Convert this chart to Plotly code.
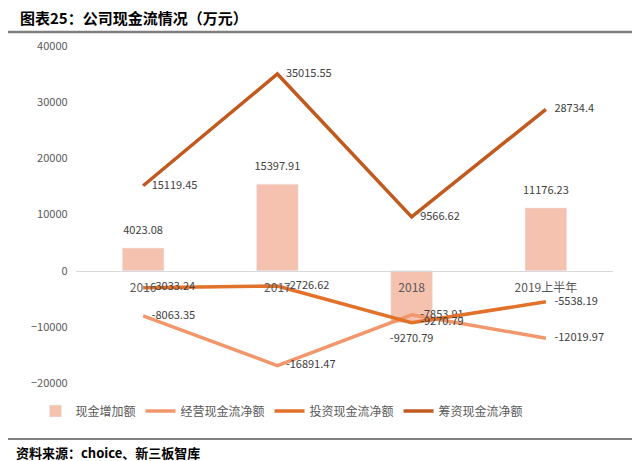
import plotly.graph_objects as go

categories = ["2016", "2017", "2018", "2019上半年"]
cash_increase = [4023.08, 15397.91, -9270.79, 11176.23]
operating = [-8063.35, -16891.47, -7853.91, -12019.97]
investing = [-3033.24, -2726.62, -9270.79, -5538.19]
financing = [15119.45, 35015.55, 9566.62, 28734.4]

font_cn = "Noto Sans CJK SC, sans-serif"
# the page body has an 8px margin, so the figure is drawn 8px smaller and
# every reference pixel position is shifted by 8
OFF = 8
W, H = 640 - OFF, 461 - OFF
left, right, top, bottom = 76 - OFF, 35 - OFF, 46 - OFF, 461 - 383
pw, ph = W - left - right, H - top - bottom


def px_y(y):
    # reference pixel row -> paper y
    return (H - bottom - (y - OFF)) / ph


def px_x(x):
    return ((x - OFF) - left) / pw


fig = go.Figure()

fig.add_trace(go.Bar(
    x=categories, y=cash_increase, name="现金增加额",
    marker_color="#F5C2AF", width=0.31,
))
# bar value labels, placed a little further from the bar ends than Bar's own outside text
fig.add_trace(go.Scatter(
    x=categories, y=cash_increase, mode="markers+text", showlegend=False,
    marker=dict(size=16, color="rgba(0,0,0,0)"),
    text=[str(v) for v in cash_increase],
    textposition=["top center" if v >= 0 else "bottom center" for v in cash_increase],
    textfont=dict(size=11, color="#404040"), cliponaxis=False, hoverinfo="skip",
))

line_series = [
    ("经营现金流净额", operating, "#F2976B"),
    ("投资现金流净额", investing, "#E2712A"),
    ("筹资现金流净额", financing, "#C05A1E"),
]
for name, vals, color in line_series:
    fig.add_trace(go.Scatter(
        x=categories, y=vals, name=name, mode="lines+markers+text",
        line=dict(color=color, width=3.5),
        marker=dict(size=12, color="rgba(0,0,0,0)"),
        text=[str(v) for v in vals], textposition="middle right",
        textfont=dict(size=11, color="#404040"), cliponaxis=False,
    ))

# x axis sits on the zero line: range is -20000..40000, so zero is 1/3 up
fig.update_layout(
    width=W, height=H,
    margin=dict(l=left, r=right, t=top, b=bottom, autoexpand=False),
    plot_bgcolor="white", paper_bgcolor="white",
    font=dict(family=font_cn, color="#595959", size=11),
    showlegend=True,
    legend=dict(orientation="h", x=px_x(282), xanchor="center",
                y=px_y(411), yanchor="middle",
                font=dict(size=12, color="#595959"), itemwidth=30,
                traceorder="normal"),
    xaxis=dict(anchor="free", position=1 / 3, showline=True, linecolor="#D9D9D9",
               linewidth=1, ticks="outside", ticklen=6, tickcolor="rgba(0,0,0,0)",
               tickfont=dict(size=12, color="#595959"),
               showgrid=False, fixedrange=True),
    yaxis=dict(range=[-20000, 40000], dtick=10000, showgrid=False, zeroline=False,
               showline=False, ticks="", ticklen=0, tickfont=dict(size=11, color="#595959"),
               tickformat="d", ticksuffix="   "),
    bargap=0.69,
)

# title, rule lines and source note
fig.add_annotation(text="<b>图表25：公司现金流情况（万元）</b>", xref="paper", yref="paper",
                   x=px_x(18), xanchor="left", y=px_y(17), yanchor="middle",
                   showarrow=False, font=dict(size=15, color="#000000", family=font_cn))
fig.add_shape(type="line", xref="paper", yref="paper",
              x0=px_x(8), x1=px_x(635), y0=px_y(32), y1=px_y(32),
              line=dict(color="#7F7F7F", width=2.5))
fig.add_shape(type="line", xref="paper", yref="paper",
              x0=px_x(8), x1=px_x(635), y0=px_y(439), y1=px_y(439),
              line=dict(color="#000000", width=1.2))
fig.add_annotation(text="<b>资料来源：choice、新三板智库</b>", xref="paper", yref="paper",
                   x=px_x(14), xanchor="left", y=px_y(452), yanchor="middle",
                   showarrow=False, font=dict(size=13, color="#000000", family=font_cn))

fig.write_html("out.html")
